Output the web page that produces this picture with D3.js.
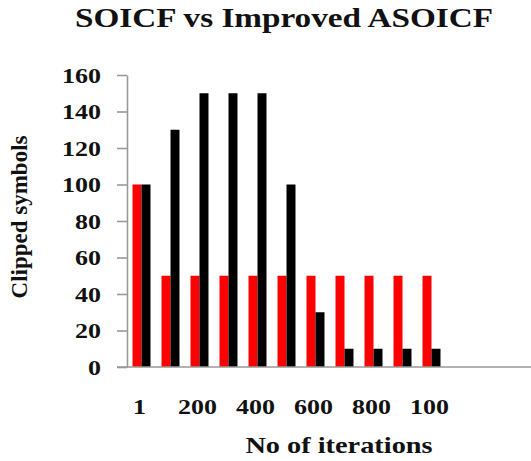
<!DOCTYPE html>
<html>
<head>
<meta charset="utf-8">
<script src="https://cdn.jsdelivr.net/npm/d3@7"></script>
<style>
  html, body { margin: 0; padding: 0; background: #fff; }
  svg text { font-family: "Liberation Serif", "Times New Roman", serif; font-weight: bold; fill: #111; }
</style>
</head>
<body>
<svg id="chart" width="531" height="461"></svg>
<script>
// iterations (categories) and the two series
const iterations = ["1", "100", "200", "300", "400", "500", "600", "700", "800", "900", "1000"];
const soicf      = [100, 50, 50, 50, 50, 50, 50, 50, 50, 50, 50];
const asoicf     = [100, 130, 150, 150, 150, 100, 30, 10, 10, 10, 10];
const seriesKeys = ["SOICF", "Improved ASOICF"];
const seriesColors = ["#ff0000", "#000000"];
const yTicks = [0, 20, 40, 60, 80, 100, 120, 140, 160];
// only every other category is labelled; the last label is cut to "100" in the source
const xTickCats   = ["1", "200", "400", "600", "800", "1000"];
const xTickLabels = ["1", "200", "400", "600", "800", "100"];

const svg = d3.select("#chart");
const W = 531, H = 461;
const plot = { left: 127, top: 75, bottom: 367, bandsEnd: 446 };

// horizontal stretch of the source picture
function stretch(sel, k){
  sel.each(function(){
    const len = this.getComputedTextLength();
    d3.select(this).attr("textLength", len * k).attr("lengthAdjust", "spacingAndGlyphs");
  });
}

const data = iterations.map((it, i) => ({ it, values: [soicf[i], asoicf[i]] }));

const x = d3.scaleBand()
  .domain(iterations)
  .range([plot.left, plot.bandsEnd])
  .paddingInner(0.38)
  .paddingOuter(0.19);

const x1 = d3.scaleBand()
  .domain(seriesKeys)
  .range([0, x.bandwidth()]);

const y = d3.scaleLinear()
  .domain([0, 160])
  .range([plot.bottom, plot.top]);

// bars
const groups = svg.append("g").selectAll("g")
  .data(data)
  .enter().append("g")
  .attr("transform", d => `translate(${x(d.it)},0)`);

groups.selectAll("rect")
  .data(d => d.values.map((v, k) => ({ key: seriesKeys[k], v, k })))
  .enter().append("rect")
  .attr("x", d => x1(d.key))
  .attr("y", d => y(d.v))
  .attr("width", x1.bandwidth())
  .attr("height", d => y(0) - y(d.v))
  .attr("fill", d => seriesColors[d.k]);

// y axis
const yAxis = svg.append("g")
  .attr("transform", `translate(${plot.left},0)`)
  .call(d3.axisLeft(y).tickValues(yTicks).tickSize(10).tickSizeOuter(0).tickPadding(16));
yAxis.select(".domain").attr("stroke", "#999").attr("stroke-width", 1.6);
yAxis.selectAll(".tick line").attr("stroke", "#999").attr("stroke-width", 1.6);
yAxis.selectAll(".tick text")
  .attr("font-size", 22)
  .attr("fill", "#111")
  .call(stretch, 1.18);

// x axis
const xAxis = svg.append("g")
  .attr("transform", `translate(0,${plot.bottom})`)
  .call(d3.axisBottom(x)
    .tickValues(xTickCats)
    .tickSize(0)
    .tickFormat(d => xTickLabels[xTickCats.indexOf(d)]));
xAxis.select(".domain").remove();
xAxis.selectAll(".tick text")
  .attr("font-size", 22)
  .attr("fill", "#111")
  .attr("dy", null)
  .attr("y", 47)
  .attr("dx", -2)
  .call(stretch, 1.18);
xAxis.append("line")
  .attr("x1", plot.left - 10).attr("x2", W)
  .attr("y1", 0).attr("y2", 0)
  .attr("stroke", "#999").attr("stroke-width", 1.6);

// titles
svg.append("text")
  .attr("x", 284).attr("y", 27)
  .attr("text-anchor", "middle")
  .attr("font-size", 27)
  .text("SOICF vs Improved ASOICF")
  .call(stretch, 1.23);

svg.append("text")
  .attr("x", 339).attr("y", 453)
  .attr("text-anchor", "middle")
  .attr("font-size", 24)
  .text("No of iterations")
  .call(stretch, 1.18);

svg.append("text")
  .attr("transform", "translate(27,217) rotate(-90)")
  .attr("text-anchor", "middle")
  .attr("font-size", 23)
  .text("Clipped symbols");
</script>
</body>
</html>
